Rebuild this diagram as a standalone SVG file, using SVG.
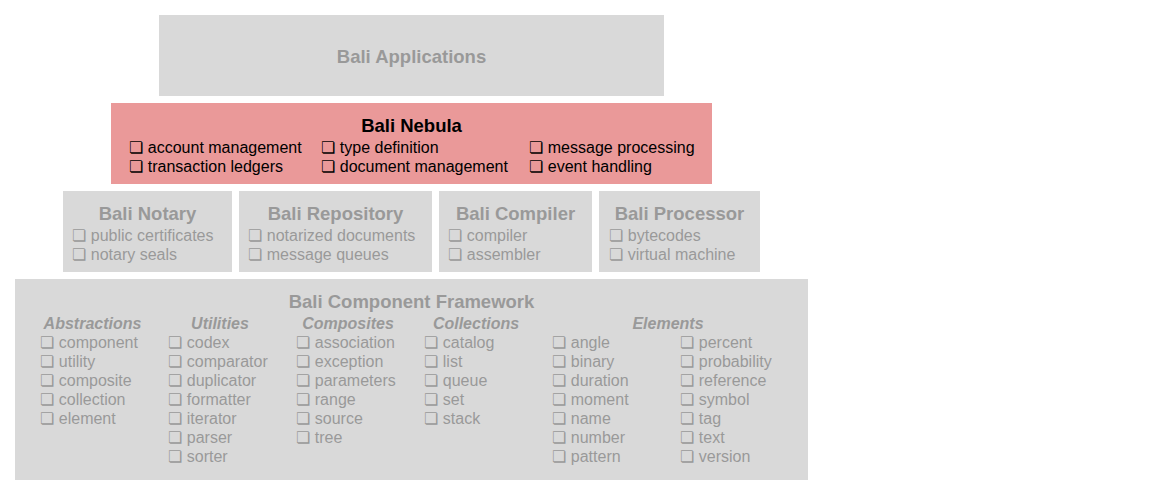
<svg xmlns="http://www.w3.org/2000/svg" width="1151" height="498" viewBox="0 0 1151 498">
<style>
text{font-family:"Liberation Sans","DejaVu Sans",Arial,sans-serif}
.box{fill:#d9d9d9}
.neb{fill:#ea9999}
.t{font-size:18.5px;font-weight:bold;text-anchor:middle;fill:#999999}
.tb{font-size:18.5px;font-weight:bold;text-anchor:middle;fill:#000000}
.i{font-size:16px;fill:#999999}
.ib{font-size:16px;fill:#000000}
.h{font-size:16px;font-weight:bold;font-style:italic;text-anchor:middle;fill:#999999}
</style>
<rect width="1151" height="498" fill="#ffffff"/>
<g id="bali-applications">
<rect class="box" x="159" y="15" width="505" height="81"/>
<text class="t" x="411.5" y="63">Bali Applications</text>
</g>
<g id="bali-nebula">
<rect class="neb" x="111" y="103" width="601" height="81"/>
<text class="tb" x="411.5" y="132">Bali Nebula</text>
<text class="ib" x="129" y="153">❏ account management</text>
<text class="ib" x="129" y="172">❏ transaction ledgers</text>
<text class="ib" x="321" y="153">❏ type definition</text>
<text class="ib" x="321" y="172">❏ document management</text>
<text class="ib" x="529" y="153">❏ message processing</text>
<text class="ib" x="529" y="172">❏ event handling</text>
</g>
<g id="bali-notary">
<rect class="box" x="63" y="191" width="169" height="81"/>
<text class="t" x="147.5" y="220">Bali Notary</text>
<text class="i" x="72" y="241">❏ public certificates</text>
<text class="i" x="72" y="260">❏ notary seals</text>
</g>
<g id="bali-repository">
<rect class="box" x="239" y="191" width="193" height="81"/>
<text class="t" x="335.5" y="220">Bali Repository</text>
<text class="i" x="248" y="241">❏ notarized documents</text>
<text class="i" x="248" y="260">❏ message queues</text>
</g>
<g id="bali-compiler">
<rect class="box" x="439" y="191" width="153" height="81"/>
<text class="t" x="515.5" y="220">Bali Compiler</text>
<text class="i" x="448" y="241">❏ compiler</text>
<text class="i" x="448" y="260">❏ assembler</text>
</g>
<g id="bali-processor">
<rect class="box" x="599" y="191" width="161" height="81"/>
<text class="t" x="679.5" y="220">Bali Processor</text>
<text class="i" x="609" y="241">❏ bytecodes</text>
<text class="i" x="609" y="260">❏ virtual machine</text>
</g>
<g id="bali-component-framework">
<rect class="box" x="15" y="279" width="793" height="201"/>
<text class="t" x="411.5" y="308">Bali Component Framework</text>
<text class="h" x="92.5" y="329">Abstractions</text>
<text class="i" x="40" y="348">❏ component</text>
<text class="i" x="40" y="367">❏ utility</text>
<text class="i" x="40" y="386">❏ composite</text>
<text class="i" x="40" y="405">❏ collection</text>
<text class="i" x="40" y="424">❏ element</text>
<text class="h" x="220" y="329">Utilities</text>
<text class="i" x="168" y="348">❏ codex</text>
<text class="i" x="168" y="367">❏ comparator</text>
<text class="i" x="168" y="386">❏ duplicator</text>
<text class="i" x="168" y="405">❏ formatter</text>
<text class="i" x="168" y="424">❏ iterator</text>
<text class="i" x="168" y="443">❏ parser</text>
<text class="i" x="168" y="462">❏ sorter</text>
<text class="h" x="348" y="329">Composites</text>
<text class="i" x="296" y="348">❏ association</text>
<text class="i" x="296" y="367">❏ exception</text>
<text class="i" x="296" y="386">❏ parameters</text>
<text class="i" x="296" y="405">❏ range</text>
<text class="i" x="296" y="424">❏ source</text>
<text class="i" x="296" y="443">❏ tree</text>
<text class="h" x="476" y="329">Collections</text>
<text class="i" x="424" y="348">❏ catalog</text>
<text class="i" x="424" y="367">❏ list</text>
<text class="i" x="424" y="386">❏ queue</text>
<text class="i" x="424" y="405">❏ set</text>
<text class="i" x="424" y="424">❏ stack</text>
<text class="h" x="668" y="329">Elements</text>
<text class="i" x="552" y="348">❏ angle</text>
<text class="i" x="552" y="367">❏ binary</text>
<text class="i" x="552" y="386">❏ duration</text>
<text class="i" x="552" y="405">❏ moment</text>
<text class="i" x="552" y="424">❏ name</text>
<text class="i" x="552" y="443">❏ number</text>
<text class="i" x="552" y="462">❏ pattern</text>
<text class="i" x="680" y="348">❏ percent</text>
<text class="i" x="680" y="367">❏ probability</text>
<text class="i" x="680" y="386">❏ reference</text>
<text class="i" x="680" y="405">❏ symbol</text>
<text class="i" x="680" y="424">❏ tag</text>
<text class="i" x="680" y="443">❏ text</text>
<text class="i" x="680" y="462">❏ version</text>
</g>
<g id="connectors"></g>
</svg>
